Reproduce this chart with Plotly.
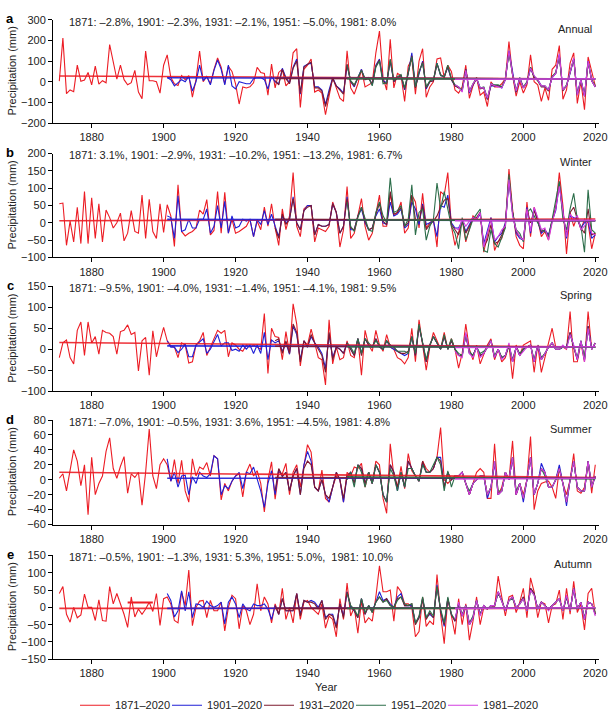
import plotly.graph_objects as go

# ---------------- data ----------------
periods = ["1871–2020", "1901–2020", "1931–2020", "1951–2020", "1981–2020"]
period_start = [1871, 1901, 1931, 1951, 1981]
end_year = 2020
x_ticks = [1880, 1900, 1920, 1940, 1960, 1980, 2000, 2020]

seasons = ["Annual", "Winter", "Spring", "Summer", "Autumn"]
panel_letters = ["a", "b", "c", "d", "e"]
trend_text = [
    "1871: –2.8%, 1901: –2.3%, 1931: –2.1%, 1951: –5.0%, 1981: 8.0%",
    "1871: 3.1%, 1901: –2.9%, 1931: –10.2%, 1951: –13.2%, 1981: 6.7%",
    "1871: –9.5%, 1901: –4.0%, 1931: –1.4%, 1951: –4.1%, 1981: 9.5%",
    "1871: –7.0%, 1901: –0.5%, 1931: 3.6%, 1951: –4.5%, 1981: 4.8%",
    "1871: –0.5%, 1901: –1.3%, 1931: 5.3%, 1951: 5.0%,  1981: 10.0%",
]
y_ranges = [[-200, 300], [-100, 200], [-100, 150], [-60, 80], [-150, 150]]
y_dticks = [100, 50, 50, 20, 50]

# ---- Annual ----
annual_1871 = [
    3, 211, -58, -40, -48, 80, 2, 8, 45, -15,
    75, -12, 5, -5, 180, 100, 12, 80, 10, -15,
    -5, 55, -50, -82, 148, 5, 5, 0, -55, 80,
    130, 20, -10, -18, 30, 10, 30, -75, 10, 148,
    0, 25, -10, 60, 115, 70, -10, 75, 50, -10,
    -108, -25, -30, -25, -5, 70, 45, 40, -65, 85,
    -30, 45, 60, -20, 0, 140, 160, -125, 60, 80,
    110, -50, -40, -55, -160, -70, 20, -30, -80, -95,
    150, -30, -60, -10, 60, -25, -15, -5, 140, 245,
    20, -40, 205, -30, 40, 30, -95, 75, 110, -60,
    100, 160, -75, -25, 0, 110, 115, 20, 80, 50,
    -40, -55, -25, 80, -80, -20, 20, -65, -50, -120,
    0, -25, -25, -10, 15, 195, 30, -70, 0, -55,
    -15, 130, 0, -15, -95, -30, -90, 60, 80, 175,
    -85, -40, 90, 140, -105, 0, -135, 120, 50, -20,
]
annual_1901 = [
    20, 10, -20, -5, 10, 0, 25, -45, 0, 80,
    5, 25, -15, 55, 105, 60, -15, 80, -20, -35,
    0, -5, -10, -10, 15, 20, 20, 10, -35, 25,
    0, -10, 65, 20, -5, 70, 110, -60, 75, 85,
    90, -25, -25, -40, -110, -40, 20, -20, -35, -55,
    80, 0, -25, 20, 60, 10, 20, -15, 80, 110,
    5, -5, 100, 0, 20, 30, -40, 40, 140, -25,
    40, 100, -35, 0, 5, 90, 30, 25, 70, 10,
    -20, -25, -45, 60, -55, -15, 15, -30, -30, -85,
    -20, -20, -20, -30, 10, 150, 40, -50, 20, -30,
    -5, 65, 25, 10, -20, -25, -40, 20, 40, 130,
    -40, -20, 40, 110, -60, 10, -70, 100, 5, -25,
]
annual_1931 = [
    5, -15, 60, 15, -10, 65, 100, -55, 70, 85,
    95, -30, -30, -45, -120, -45, 15, -20, -40, -60,
    85, 0, -20, 20, 55, 10, 15, -10, 75, 105,
    0, -10, 105, 0, 20, 30, -35, 40, 125, -30,
    45, 95, -30, 0, 5, 85, 35, 20, 75, 10,
    -20, -30, -40, 60, -50, -15, 15, -35, -30, -85,
    -15, -20, -20, -25, 10, 145, 35, -50, 15, -30,
    -5, 70, 20, 5, -25, -25, -45, 25, 40, 125,
    -45, -20, 45, 110, -65, 5, -70, 95, 5, -25,
]
annual_1951 = [
    80, 5, -15, 20, 55, 15, 20, -20, 70, 100,
    -10, -5, 110, 5, 25, 35, -30, 45, 120, -25,
    50, 90, -25, 5, 10, 90, 30, 25, 80, 15,
    -15, -25, -40, 55, -45, -10, 20, -30, -25, -80,
    -10, -15, -15, -25, 15, 140, 35, -45, 20, -25,
    0, 70, 25, 5, -20, -20, -40, 25, 45, 125,
    -40, -15, 45, 110, -60, 10, -65, 95, 10, -20,
]
annual_1981 = [
    -15, -25, -50, 55, -50, -10, 15, -30, -30, -80,
    -10, -20, -25, -30, 10, 150, 35, -45, 15, -30,
    -5, 65, 30, 10, -20, -20, -40, 20, 40, 135,
    -40, -20, 45, 115, -65, 10, -70, 100, 5, -25,
]
annual_trend_start = [28, 19, 16, 15, 12]
annual_trend_end = [13, 13, 13, 13, 14]

# ---- Winter ----
winter_1871 = [
    55, 57, -65, 5, -55, 45, -60, 90, -60, 72,
    -45, 55, -55, 37, 15, -15, 0, 28, -52, -30,
    35, -25, -30, 80, -45, 68, -25, -45, 55, -28,
    52, 20, -68, 110, -25, -38, -30, -25, -15, 37,
    25, 67, -35, -22, 90, -30, 88, -30, 10, -30,
    -25, -18, -10, 10, -40, 5, -20, 45, -10, 55,
    -15, -65, 40, -20, 20, 145, -10, -40, 40, 50,
    50, -55, -15, -20, -25, -10, 60, 30, -70, -20,
    105, -45, -30, 20, 70, -10, -50, -30, 20, 80,
    -10, -10, 85, 20, 30, 60, -30, -15, 80, 60,
    -15, 85, -15, 0, 10, -70, 90, 80, 145, -10,
    -65, -30, 10, -55, -15, 20, 10, 30, -85, -30,
    15, -80, -55, -45, -5, 155, 40, -40, -65, -75,
    60, -40, 45, 10, -40, -25, -50, 10, 40, 145,
    50, -90, 30, -10, 20, -20, 10, 0, -75, -30,
]
winter_1901 = [
    20, 15, -45, 78, -25, -20, 10, -15, -15, 10,
    10, 40, -30, -10, 50, -15, 62, -30, 20, -15,
    -10, 10, 5, 10, -40, 10, -5, 35, -5, 25,
    -10, -40, 20, 0, 10, 75, 0, -20, 35, 50,
    50, -35, -5, -10, -10, -5, 55, 30, -30, -10,
    75, -20, -20, 20, 40, 0, -20, -15, 20, 40,
    0, -5, 60, 20, 25, 40, -15, -5, 60, 40,
    -5, 55, -5, 0, 5, -40, 50, 45, 80, 0,
    -15, -15, 5, -25, -5, 15, 10, 25, -60, -25,
    15, -55, -40, -30, 0, 120, 30, -30, -45, -50,
    45, -30, 40, 5, -30, -20, -35, 5, 35, 110,
    30, -45, 20, 15, 10, -15, 0, 5, -45, -35,
]
winter_1931 = [
    -15, -45, 25, -5, 10, 70, 0, -20, 35, 45,
    50, -35, -5, -10, -10, -5, 55, 30, -30, -10,
    70, -15, -20, 20, 45, 5, -20, -15, 25, 55,
    5, -5, 90, 25, 30, 45, -10, 0, 80, 10,
    5, 50, -20, -5, 5, 20, 45, 65, 70, -5,
    -20, -35, 5, -30, -10, 10, 15, 30, -70, -50,
    -5, -60, -55, -35, -5, 130, 30, -25, -40, -50,
    40, 0, 35, 5, -25, -20, -40, 5, 45, 115,
    25, -35, 30, 45, 10, -15, -30, 40, -35, -30,
]
winter_1951 = [
    60, -10, -25, 15, 45, 10, -20, -25, 30, 60,
    20, 0, 130, 30, 35, 50, -10, 10, 110, -35,
    30, 40, -50, -10, 10, 115, 40, 90, 40, -10,
    -30, -75, 15, -50, -20, 10, 25, 40, -80, -85,
    -20, -60, -70, -40, -15, 140, 30, -20, -30, -55,
    30, 40, 20, 0, -20, -25, -40, 10, 60, 120,
    10, -20, 40, 85, 10, -10, -85, 95, -20, -30,
]
winter_1981 = [
    -15, -20, 10, -10, 5, 15, 10, 30, -70, -30,
    10, -50, -40, -20, -10, 125, 20, -20, -40, -50,
    40, -25, 45, 15, -20, -15, -50, 0, 40, 105,
    35, -40, 25, 10, 20, -20, -10, 10, -30, -35,
]
winter_trend_start = [6, 10, 10, 9, 6]
winter_trend_end = [11, 6, 6, 6, 7]

# ---- Spring ----
spring_1871 = [
    -20, 15, 22, -20, -35, 45, 65, -15, 65, 15,
    30, -12, 45, 40, 38, 30, -12, 42, 45, 58,
    35, 40, -52, 20, 28, -62, 44, -18, 20, 52,
    20, 8, 5, -20, 15, 10, -33, -30, 10, 20,
    40, -15, 5, 25, 45, 38, 45, -18, 15, 10,
    0, -5, 10, 5, 10, 5, 0, 85, -58, 50,
    30, 28, -25, 42, -10, 108, 60, -40, 20, 10,
    48, 15, -20, -25, -85, 70, -35, 5, -25, -20,
    20, -15, -20, 25, -62, 45, 10, -5, 45, 10,
    -5, 35, 5, 0, -20, -25, -35, -20, 50, -30,
    70, 10, -50, 5, 40, 20, 0, 40, 0, 25,
    0, -45, -10, 60, 0, -25, 10, -35, -10, 10,
    25, -25, 0, -30, -20, 10, -70, 10, -15, 10,
    15, 20, -55, 10, -55, -20, 10, 50, 5, 5,
    5, 0, 90, -30, -30, 15, -30, 90, 0, 15,
]
spring_1901 = [
    20, 5, 5, -8, 0, 12, -18, -18, 10, 18,
    25, -10, 0, 18, 35, 8, 15, 15, -3, 0,
    -5, 10, 0, 10, -10, 10, -10, 40, -25, 22,
    15, 20, -5, 15, -12, 55, 35, -25, 20, 5,
    30, 15, 5, -10, -45, 35, -20, 5, 0, -10,
    15, 0, -15, 25, -10, 25, 10, 5, 25, 5,
    0, 20, 5, 0, -5, -10, -15, -10, 30, -15,
    55, 15, -30, 10, 30, 15, 0, 30, 0, 20,
    0, -15, -15, 35, -10, -15, 5, -15, -10, 5,
    20, -20, 0, -20, -15, 10, -30, 5, -15, 0,
    5, 10, -30, 10, -25, -10, 5, 15, 0, 0,
    5, 5, 40, 5, -25, 20, -25, 55, 0, 15,
]
spring_1931 = [
    20, 25, -10, 20, -10, 60, 40, -30, 20, 5,
    35, 15, 0, -15, -55, 40, -25, 5, 0, -10,
    15, 0, -15, 25, -15, 25, 10, 5, 25, 5,
    0, 20, 10, 5, -5, -10, -10, -5, 30, -15,
    55, 15, -30, 10, 30, 15, 0, 30, 0, 20,
    0, -15, -15, 35, -10, -15, 5, -15, -10, 5,
    20, -20, 0, -20, -15, 10, -30, 5, -15, 0,
    5, 10, -30, 10, -25, -10, 5, 15, 0, 0,
    5, 5, 40, 5, -25, 20, -25, 55, 0, 15,
]
spring_1951 = [
    15, 5, -10, 25, -10, 25, 15, 5, 20, 10,
    0, 20, 10, 5, -5, -5, -5, -10, 30, -10,
    60, 15, -25, 10, 30, 15, 0, 35, 0, 25,
    0, -10, -15, 35, -5, -15, 5, -10, -5, 5,
    20, -15, 0, -20, -15, 10, -25, 5, -10, 0,
    5, 10, -25, 10, -20, -10, 5, 15, 0, 0,
    5, 5, 35, 5, -20, 20, -20, 50, 0, 15,
]
spring_1981 = [
    -5, -15, -20, 40, -10, -20, 5, -20, -10, 5,
    20, -20, 0, -25, -15, 15, -30, 5, -15, -5,
    5, 10, -30, 10, -25, -10, 5, 15, 0, 0,
    10, 0, 35, 10, -25, 20, -30, 50, 0, 15,
]
spring_trend_start = [16, 8, 7, 6, 4]
spring_trend_end = [5, 5, 5, 5, 6]

# ---- Summer ----
summer_1871 = [
    2, 8, -15, 10, 40, 25, -8, 20, -47, 30,
    -20, -5, 5, 38, 56, 15, 2, 18, 31, -18,
    8, 3, 10, -34, 10, 68, 5, -12, 20, 28,
    20, -2, 27, -5, 26, -15, -30, 28, 5, 17,
    14, 23, 5, 32, 28, -27, -5, -15, -2, 5,
    8, -23, 10, 21, 5, 12, -5, -43, 0, 24,
    -26, 10, 8, 22, -20, 10, 20, -10, 20, 47,
    37, -10, -15, 13, -25, -30, -10, 5, 0, -30,
    10, 5, 17, 15, 22, -10, 10, -5, 25, 20,
    -25, -45, 48, 5, -10, 18, -12, 35, 12, 5,
    -2, 25, 15, 10, 15, 30, 70, 0, -5, 0,
    5, 5, 10, -5, -20, -5, 10, 15, 10, -25,
    -25, 48, -20, -10, 10, 0, 52, -20, -5, -20,
    0, 58, -40, -15, -5, -3, -2, -10, -25, 15,
    -5, -20, 0, 35, -15, -18, -10, 25, -18, 20,
]
summer_1901 = [
    28, -2, 10, -10, 5, 6, -20, 4, -5, 10,
    5, 3, 8, 32, 28, -20, -8, -12, -2, 5,
    10, -12, 10, 8, 17, 0, -15, -37, -5, 12,
    -20, 14, 4, 10, -15, 5, 15, -20, 20, 38,
    25, -10, -15, 0, -20, -30, -10, 10, 0, -30,
    5, 10, -5, 20, 15, -5, 10, -5, 20, 10,
    -20, -30, 20, 10, -15, 10, -10, 25, 15, 5,
    -2, 22, 10, 10, 15, 30, 30, -10, 10, 0,
    5, 5, 10, -5, -20, -5, 0, 5, 5, -25,
    -10, 22, -20, -15, 10, 0, 30, -20, -5, -30,
    0, 30, -20, -5, 22, 10, -10, -10, 0, 20,
    -5, -35, 0, 25, -10, -15, -15, 25, -10, 5,
]
summer_1931 = [
    -15, 15, 5, 10, -15, 5, 15, -20, 15, 25,
    20, -10, -15, 0, -20, -25, -10, 10, 0, -25,
    5, 10, -5, 20, 15, -5, 10, -5, 20, 10,
    -20, -30, 20, 10, -10, 10, -10, 25, 15, 5,
    -2, 25, 10, 10, 15, 30, 25, -10, 10, 0,
    5, 5, 10, -5, -20, -5, 0, 5, 5, -20,
    -10, 25, -20, -15, 10, 0, 30, -20, -5, -25,
    0, 30, -20, -5, 15, 10, -10, -10, 0, 15,
    -5, -30, 0, 25, -10, -15, -15, 25, -10, 5,
]
summer_1951 = [
    0, 10, -10, 20, 10, -10, 10, -5, 20, 10,
    -20, -30, 15, 5, -15, 10, -10, 15, 15, 5,
    -2, 20, 10, 10, 20, 30, 20, -15, 12, -10,
    5, 5, 10, -5, -15, -5, 0, 5, 5, -20,
    -10, 25, -15, -15, 10, 0, 30, -15, -5, -25,
    0, 30, -20, -5, 15, 5, -10, -10, 0, 15,
    -5, -30, 0, 25, -10, -15, -15, 25, -10, 5,
]
summer_1981 = [
    5, 5, 10, -5, -20, -5, 0, 5, 5, -20,
    -10, 25, -20, -15, 10, 0, 30, -20, -5, -25,
    0, 30, -20, -5, 15, 10, -10, -10, 0, 15,
    -5, -30, 0, 25, -10, -15, -15, 25, -10, 5,
]
summer_trend_start = [10, 2, 3, 4, 1]
summer_trend_end = [3, 2, 2, 1, 2]

# ---- Autumn ----
autumn_1871 = [
    40, 60, -20, -43, 0, -30, -22, 38, 0, 0,
    -38, 22, -38, -40, 60, 10, 40, 10, -20, -58,
    30, -28, -5, -20, -5, 15, -12, 40, -52, 25,
    30, 10, -38, -45, 45, 5, 108, -53, 0, 18,
    20, -30, 20, -10, -10, 15, -68, 0, 35, 25,
    -62, 5, -10, -50, -20, 68, -10, 30, 10, -45,
    10, -20, 55, -35, 0, -45, 40, -35, 15, 20,
    0, -10, -20, 10, -60, -25, -35, -85, 25, -35,
    70, -25, 0, -75, 20, -45, -30, -40, 30, 120,
    45, 45, 50, -40, 60, 45, 10, 10, 0, -85,
    -70, 30, -55, -40, -50, 95, -20, -105, 25, -25,
    -78, 25, -50, 10, -95, -40, 30, -50, 0, -5,
    5, 0, 90, 30, -25, 30, 35, -15, 15, 55,
    -30, 85, 45, -30, 15, 10, -45, 5, 10, 50,
    -35, 55, -20, 75, -15, 10, -65, 40, 55, -20,
]
autumn_1901 = [
    40, 20, -28, -10, 48, -10, 45, -30, 10, 8,
    0, 18, 5, 0, 5, 15, -48, 15, 30, 10,
    -30, 10, -5, -10, 10, 5, 5, 10, -5, -35,
    5, -20, 25, -10, -10, -10, 40, -20, 20, 15,
    20, 15, 0, 20, -30, -20, -20, -55, 10, -25,
    45, 0, -10, -30, 25, -20, 5, -10, 15, 45,
    20, 25, 10, 0, 30, 40, 5, 5, 5, -45,
    -30, 25, -30, -20, -30, 65, -10, -55, 25, -20,
    -40, 10, -25, 5, -50, -30, 20, -20, 5, -5,
    5, 5, 45, 20, -10, 20, 30, 0, 10, 30,
    -10, 55, 40, -5, 15, 5, -5, 5, 15, 25,
    -10, 30, -10, 55, -5, 15, -35, 15, 10, -20,
]
autumn_1931 = [
    5, -20, 25, -10, -10, -10, 40, -25, 20, 15,
    15, 10, -5, 20, -35, -20, -25, -60, 10, -30,
    45, 5, -10, -30, 25, -20, 5, -15, 15, 30,
    15, 25, 5, 0, 25, 30, 5, 5, 10, -50,
    -30, 25, -35, -15, -30, 60, -10, -50, 25, -20,
    -40, 10, -25, 5, -50, -30, 20, -20, 5, -5,
    5, 5, 45, 20, -10, 20, 30, 0, 10, 30,
    -10, 55, 40, -5, 15, 5, -5, 5, 15, 25,
    -10, 30, -10, 55, -5, 15, -35, 15, 10, -20,
]
autumn_1951 = [
    40, 5, -5, -25, 25, -15, 5, -15, 15, 30,
    15, 20, 5, 0, 20, 30, 10, 5, 10, -45,
    -25, 30, -30, -10, -25, 60, -5, -45, 30, -20,
    -35, 10, -20, 5, -45, -25, 20, -20, 5, -5,
    5, 5, 40, 20, -10, 20, 25, 0, 10, 25,
    -10, 50, 35, -5, 15, 5, -5, 5, 15, 25,
    -10, 30, -10, 55, -5, 15, -30, 15, 10, -15,
]
autumn_1981 = [
    -35, 15, -25, 5, -50, -30, 20, -25, 5, -5,
    5, 5, 45, 20, -10, 20, 30, 0, 10, 25,
    -10, 50, 35, -5, 15, 5, -10, 5, 15, 25,
    -10, 35, -10, 55, -5, 15, -35, 15, 10, -25,
]
autumn_trend_start = [-3, -3, -3, -3, -3]
autumn_trend_end = [-3, -2, -2, -2, -1]
autumn_extra_years = [1890, 1897]
autumn_extra_values = [14, 14]

# ---------------- figure ----------------
colors = ["#ec1c24", "#1f1fd6", "#7d1a2e", "#2c6e4a", "#d23ee0"]
FONT = "Arial, 'Liberation Sans', Helvetica, sans-serif"
W, H = 613, 722
ML, MR = 53, 14
PW = W - ML - MR

# panel pixel extents (top, bottom) of plotting area
panel_px = [(14, 119), (150, 255.7), (285, 391.7), (421, 527.3), (558.7, 664.3)]

panel_series = [
    [annual_1871, annual_1901, annual_1931, annual_1951, annual_1981],
    [winter_1871, winter_1901, winter_1931, winter_1951, winter_1981],
    [spring_1871, spring_1901, spring_1931, spring_1951, spring_1981],
    [summer_1871, summer_1901, summer_1931, summer_1951, summer_1981],
    [autumn_1871, autumn_1901, autumn_1931, autumn_1951, autumn_1981],
]
panel_trend_start = [annual_trend_start, winter_trend_start, spring_trend_start,
                     summer_trend_start, autumn_trend_start]
panel_trend_end = [annual_trend_end, winter_trend_end, spring_trend_end,
                   summer_trend_end, autumn_trend_end]

for ser in panel_series:
    for vals, st in zip(ser, period_start):
        assert len(vals) == end_year - st + 1, (st, len(vals))

fig = go.Figure()

def px_x(p):
    return (p - ML) / PW

def px_y(p):
    return 1 - p / H

for i in range(5):
    ax = "" if i == 0 else str(i + 1)
    for k in range(5):
        vals = panel_series[i][k]
        yrs = list(range(period_start[k], period_start[k] + len(vals)))
        extra = {}
        if i == 0 and k == 4:
            extra["legendwidth"] = 70
        fig.add_trace(go.Scatter(
            x=yrs, y=vals, mode="lines", name=periods[k], legendgroup=periods[k],
            showlegend=(i == 0), line=dict(color=colors[k], width=1.1),
            xaxis="x" + ax, yaxis="y" + ax, hoverinfo="skip", **extra))
    for k in range(5):
        fig.add_trace(go.Scatter(
            x=[period_start[k], end_year],
            y=[panel_trend_start[i][k], panel_trend_end[i][k]],
            mode="lines", showlegend=False, legendgroup=periods[k],
            line=dict(color=colors[k], width=1.6), opacity=0.9,
            xaxis="x" + ax, yaxis="y" + ax, hoverinfo="skip"))
    if i == 4:
        fig.add_trace(go.Scatter(
            x=autumn_extra_years, y=autumn_extra_values, mode="lines",
            showlegend=False, line=dict(color=colors[0], width=2),
            xaxis="x" + ax, yaxis="y" + ax, hoverinfo="skip"))

    top, bot = panel_px[i]
    axis_common = dict(showline=True, linecolor="black", linewidth=1,
                       ticks="outside", ticklen=4, tickwidth=1, tickcolor="black",
                       showgrid=False, zeroline=False,
                       tickfont=dict(family=FONT, size=11, color="#222"))
    fig.layout["xaxis" + ax] = dict(
        domain=[0, 1], range=[1869.25, 2021.03], tickvals=x_ticks,
        anchor="y" + ax, **axis_common)
    fig.layout["yaxis" + ax] = dict(
        domain=[px_y(bot), px_y(top)], range=y_ranges[i], dtick=y_dticks[i],
        tick0=0, anchor="x" + ax, **axis_common)

annotations = []
for i in range(5):
    top, bot = panel_px[i]
    annotations.append(dict(
        text="<b>" + panel_letters[i] + "</b>", x=px_x(10), y=px_y(top - 1),
        xref="paper", yref="paper", showarrow=False, xanchor="center",
        yanchor="middle", font=dict(family=FONT, size=13, color="black")))
    annotations.append(dict(
        text=trend_text[i], x=px_x(67), y=px_y(top + 2),
        xref="paper", yref="paper", showarrow=False, xanchor="left",
        yanchor="middle", font=dict(family=FONT, size=11, color="#222")))
    annotations.append(dict(
        text=seasons[i], x=px_x(594), y=px_y(top + 9),
        xref="paper", yref="paper", showarrow=False, xanchor="right",
        yanchor="middle", font=dict(family=FONT, size=11, color="#222")))
    annotations.append(dict(
        text="Precipitation (mm)", x=px_x(12), y=px_y((top + bot) / 2),
        xref="paper", yref="paper", showarrow=False, textangle=-90,
        xanchor="center", yanchor="middle",
        font=dict(family=FONT, size=11, color="#222")))
annotations.append(dict(
    text="Year", x=0.5, y=px_y(692.7), xref="paper", yref="paper",
    showarrow=False, xanchor="center", yanchor="middle",
    font=dict(family=FONT, size=11, color="#222")))

fig.update_layout(
    width=W, height=H,
    margin=dict(l=ML, r=MR, t=0, b=0),
    paper_bgcolor="white", plot_bgcolor="white",
    annotations=annotations,
    showlegend=True,
    legend=dict(orientation="h", x=px_x(75), y=px_y(711), xanchor="left",
                yanchor="middle", font=dict(family=FONT, size=11, color="#222"),
                bgcolor="rgba(0,0,0,0)", itemclick=False, traceorder="normal",
                entrywidth=47, entrywidthmode="pixels"),
)

fig.write_html("out.html")
